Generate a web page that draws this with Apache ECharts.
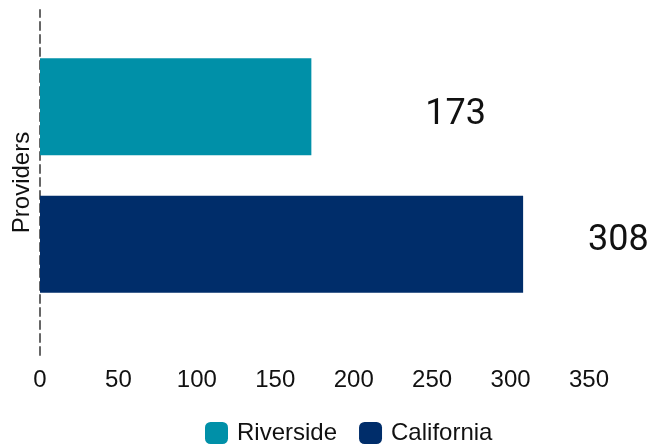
<!DOCTYPE html>
<html>
<head>
<meta charset="utf-8">
<script src="https://cdn.jsdelivr.net/npm/echarts@6/dist/echarts.min.js"></script>
<style>html,body{margin:0;padding:0;background:#fff}#c{width:665px;height:444px}</style>
</head>
<body>
<div id="c"></div>
<script>
const categories = ['Providers'];
const seriesNames = ['Riverside', 'California'];
const riversideValues = [173];
const californiaValues = [308];
const xTicks = [0, 50, 100, 150, 200, 250, 300, 350];

const chart = echarts.init(document.getElementById('c'), null, {renderer: 'canvas'});
const axisFont = '"Liberation Sans", Arial, sans-serif';
chart.setOption({
  animation: false,
  backgroundColor: '#ffffff',
  color: ['#0090A8', '#002D6A'],
  grid: [
    {left: 40, right: 76, top: 10, height: 331},
    {left: 40, right: 76, top: 10, height: 345, show: false}
  ],
  legend: {
    data: seriesNames,
    left: 205,
    top: 421,
    padding: 0,
    itemWidth: 23,
    itemHeight: 22,
    itemGap: 22,
    icon: 'roundRect',
    textStyle: {fontFamily: axisFont, fontSize: 24, color: '#111', padding: [0, 0, 0, 4]}
  },
  xAxis: [
    {
      gridIndex: 0, type: 'value', min: xTicks[0], max: xTicks[xTicks.length - 1], interval: 50,
      axisLine: {show: false}, axisTick: {show: false}, splitLine: {show: false},
      axisLabel: {fontFamily: axisFont, fontSize: 24, color: '#111', margin: 27}
    },
    {gridIndex: 1, type: 'value', show: false, min: 0, max: 350}
  ],
  yAxis: [
    {
      gridIndex: 0, type: 'category', data: categories, inverse: true,
      axisLine: {show: false}, axisTick: {show: false}, axisLabel: {show: false}
    },
    {
      gridIndex: 1, type: 'category', data: categories,
      axisLine: {show: true, lineStyle: {color: '#666', width: 2, type: [8, 5]}},
      axisTick: {show: false},
      axisLabel: {rotate: 90, fontFamily: axisFont, fontSize: 24, color: '#111', margin: 6}
    }
  ],
  series: [
    {
      name: seriesNames[0], type: 'bar', data: riversideValues,
      xAxisIndex: 0, yAxisIndex: 0,
      barWidth: 97, barGap: '42%',
      label: {show: true, position: 'right', distance: 114, offset: [0, 8],
        fontFamily: 'Roboto, sans-serif', fontSize: 36, color: '#111'}
    },
    {
      name: seriesNames[1], type: 'bar', data: californiaValues,
      xAxisIndex: 0, yAxisIndex: 0,
      barWidth: 97, barGap: '42%',
      label: {show: true, position: 'right', distance: 65, offset: [0, -3],
        fontFamily: 'Roboto, sans-serif', fontSize: 36, color: '#111'}
    }
  ]
});
</script>
</body>
</html>
